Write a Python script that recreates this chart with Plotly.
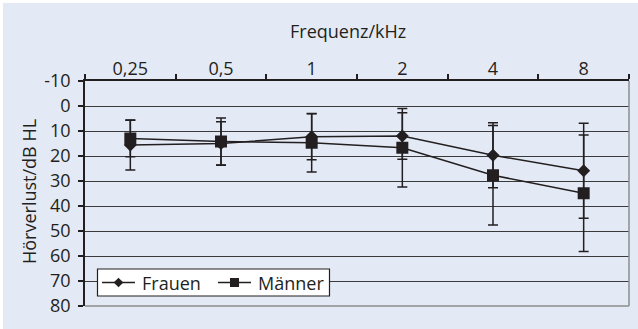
import plotly.graph_objects as go

categories = ["0,25", "0,5", "1", "2", "4", "8"]
frauen = [15.6, 15.0, 12.3, 12.0, 19.7, 25.9]
frauen_err = [10.0, 8.7, 9.2, 9.3, 13.0, 19.0]
maenner = [13.0, 14.2, 14.7, 16.7, 27.7, 34.9]
maenner_err = [7.3, 9.4, 11.7, 15.7, 19.9, 23.3]
y_ticks = [-10, 0, 10, 20, 30, 40, 50, 60, 70, 80]
y_ticktext = ["-10", "0", "10", "20", "30", "40", "50", "60", "70", "80"]

BG = "#E3EAF5"
INK = "#231F20"
FONT = "Open Sans"
FS = 18

fig = go.Figure()
fig.add_trace(go.Scatter(
    x=categories, y=frauen, name="Frauen", mode="lines+markers",
    line=dict(color=INK, width=1.5),
    marker=dict(symbol="diamond", size=10, color=INK),
    error_y=dict(type="data", array=frauen_err, color=INK, thickness=1.5, width=5),
))
fig.add_trace(go.Scatter(
    x=categories, y=maenner, name="Männer", mode="lines+markers",
    line=dict(color=INK, width=1.5),
    marker=dict(symbol="square", size=12, color=INK),
    error_y=dict(type="data", array=maenner_err, color=INK, thickness=1.5, width=5),
))

W, H = 638, 329
L, R, T, B = 85, 9, 81, 23
pw, ph = W - L - R, H - T - B


def px(x):
    return (x - L) / pw


def py(y):
    return (H - B - y) / ph


# hand-drawn legend box (matches the compact legend of the original)
leg_y = 282.5
shapes = [
    dict(type="rect", xref="paper", yref="paper", layer="below",
         x0=px(3), x1=px(W), y0=py(H), y1=py(3),
         fillcolor=BG, line=dict(width=0)),
    dict(type="line", xref="paper", yref="paper", x0=1, x1=1, y0=0, y1=1,
         line=dict(color="#8C8C8C", width=1.5)),
    dict(type="line", xref="paper", yref="paper", x0=0, x1=1, y0=0, y1=0,
         line=dict(color="#8C8C8C", width=1.5)),
    dict(type="rect", xref="paper", yref="paper", layer="above",
         x0=px(97.5), x1=px(329.5), y0=py(296), y1=py(269),
         fillcolor="white", line=dict(color=INK, width=1.2)),
    dict(type="line", xref="paper", yref="paper", x0=px(102), x1=px(135),
         y0=py(leg_y), y1=py(leg_y), line=dict(color=INK, width=1.5)),
    dict(type="path", xref="paper", yref="paper",
         path=(f"M {px(118.5 - 4.8)},{py(leg_y)} L {px(118.5)},{py(leg_y - 4.8)} "
               f"L {px(118.5 + 4.8)},{py(leg_y)} L {px(118.5)},{py(leg_y + 4.8)} Z"),
         fillcolor=INK, line=dict(width=0)),
    dict(type="line", xref="paper", yref="paper", x0=px(218), x1=px(251),
         y0=py(leg_y), y1=py(leg_y), line=dict(color=INK, width=1.5)),
    dict(type="rect", xref="paper", yref="paper",
         x0=px(234.5 - 4.5), x1=px(234.5 + 4.5), y0=py(leg_y + 4.5), y1=py(leg_y - 4.5),
         fillcolor=INK, line=dict(width=0)),
]

annotations = [
    dict(text="Frauen", xref="paper", yref="paper", x=px(140), y=py(leg_y),
         xanchor="left", yanchor="middle", showarrow=False,
         font=dict(family=FONT, size=FS, color=INK)),
    dict(text="Männer", xref="paper", yref="paper", x=px(256), y=py(leg_y),
         xanchor="left", yanchor="middle", showarrow=False,
         font=dict(family=FONT, size=FS, color=INK)),
    dict(text="Frequenz/kHz", xref="paper", yref="paper", x=px(348), y=py(31),
         xanchor="center", yanchor="middle", showarrow=False,
         font=dict(family=FONT, size=FS, color=INK)),
    dict(text="Hörverlust/dB HL", xref="paper", yref="paper", x=px(29), y=py(192),
         xanchor="center", yanchor="middle", showarrow=False, textangle=-90,
         font=dict(family=FONT, size=FS, color=INK)),
]

fig.update_layout(
    width=W, height=H,
    margin=dict(l=L, r=R, t=T, b=B, pad=0, autoexpand=False),
    paper_bgcolor="white", plot_bgcolor=BG,
    font=dict(family=FONT, size=FS, color=INK),
    showlegend=False,
    xaxis=dict(
        side="top", type="category", categoryorder="array", categoryarray=categories,
        range=[-0.5, 5.5], tickson="boundaries", ticks="outside", ticklen=5,
        tickcolor=INK, tickwidth=1.5, showline=True, linecolor=INK, linewidth=1.5,
        showgrid=False, zeroline=False, automargin=False, ticklabelstandoff=-3,
        tickfont=dict(family=FONT, size=FS, color=INK),
    ),
    yaxis=dict(
        range=[80, -10], tickvals=y_ticks, ticktext=y_ticktext, ticks="outside", ticklen=5,
        tickcolor=INK, tickwidth=1.5, showline=True, linecolor=INK, linewidth=1.5,
        showgrid=True, gridcolor="#3A3A3A", gridwidth=1.3, zeroline=False, automargin=False,
        ticklabelstandoff=4,
        tickfont=dict(family=FONT, size=FS, color=INK),
    ),
    shapes=shapes,
    annotations=annotations,
)

fig.write_html(
    "out.html",
    config={"displayModeBar": False},
    post_script="document.body.style.margin='0';document.body.style.overflow='hidden';",
)
